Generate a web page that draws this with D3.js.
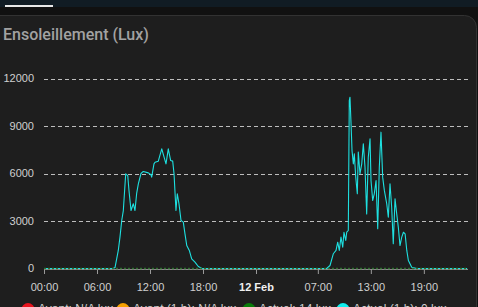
<!DOCTYPE html>
<html>
<head>
<meta charset="utf-8">
<script src="https://cdn.jsdelivr.net/npm/d3@7"></script>
<style>
  html, body { margin: 0; padding: 0; background: #111111; overflow: hidden; }
  svg { display: block; }
</style>
</head>
<body>
<svg id="chart" width="478" height="307"></svg>
<script>
// Hours since 11 Feb 00:00 and light level (lux) for the 1 h sensor
const hours = [
  0, 7.81, 8.04, 8.41, 8.60, 8.80, 8.98, 9.25, 9.48, 9.62, 9.85, 10.11, 10.30, 10.49, 10.68,
  10.98, 11.24, 11.81, 12.11, 12.19, 12.45, 12.57, 12.94, 13.33, 13.81, 14.07, 14.34, 14.57,
  14.72, 14.94, 15.09, 15.28, 15.51, 15.77, 15.96, 16.16, 16.45, 16.72, 17.09, 17.47, 17.85, 18.0,
  32.0, 32.38, 32.75, 33.06, 33.25, 33.43, 33.62, 33.82, 33.96, 34.16, 34.27, 34.45, 34.56, 34.64,
  34.76, 34.87, 35.02, 35.13, 35.29, 35.47, 35.58, 35.77, 35.97, 36.15, 36.34, 36.53, 36.71,
  36.91, 37.02, 37.21, 37.39, 37.59, 37.78, 37.96, 38.15, 38.34, 38.53, 38.80, 38.98, 39.17,
  39.36, 39.54, 39.74, 39.93, 40.11, 40.30, 40.50, 40.69, 40.88, 41.07, 41.25, 41.63, 42.19, 47.9
];
const lux = [
  0, 0, 60, 1140, 1980, 3030, 3660, 5980, 5870, 4930, 3660, 4090, 3660, 4740, 5350,
  6000, 6130, 6040, 5920, 5770, 6610, 6710, 6780, 7560, 6610, 7560, 6820, 6780,
  5980, 3660, 4720, 4090, 3030, 2930, 2190, 1450, 1140, 610, 400, 126, 20, 0,
  0, 190, 930, 1140, 1660, 1140, 1980, 1350, 2290, 1770, 2290, 2400, 10600, 10820,
  9140, 7450, 6610, 7240, 5770, 4720, 7350, 5980, 6610, 7880, 6400, 3450, 7030,
  8190, 5560, 4300, 4720, 5560, 2510, 6400, 8610, 5770, 4930, 4090, 3240, 5350,
  3870, 1560, 4400, 3450, 2610, 1450, 1980, 2290, 2190, 1140, 505, 80, 0, 0
];
// Daily sensor stays at zero across the range
const dailyHours = [0, 47.9];
const dailyLux = [0, 0];

const yTicks = [0, 3000, 6000, 9000, 12000];
const xTickHours = [0, 6, 12, 18, 24, 31, 37, 43];
const legendNames = ['Avant: N/A lux', 'Avant (1 h): N/A lux', 'Actuel: 14 lux', 'Actuel (1 h): 0 lux'];
const legendColors = ['#e8141e', '#f5a000', '#0a7d0a', '#11eeee'];

const start = new Date(2024, 1, 11, 0, 0);
const toDate = h => new Date(start.getTime() + h * 3600 * 1000);

const svg = d3.select('#chart');

// top bar and card
svg.append('rect').attr('x', 0).attr('y', 0).attr('width', 478).attr('height', 7).attr('fill', '#111c24');
svg.append('rect').attr('x', 5).attr('y', 5).attr('width', 48).attr('height', 2).attr('fill', '#e8e8e8');
svg.append('rect')
    .attr('x', -20).attr('y', 15.5).attr('width', 496.5).attr('height', 320)
    .attr('rx', 12).attr('ry', 12)
    .attr('fill', '#1e1e1e')
    .attr('stroke', '#323232')
    .attr('stroke-width', 1);

svg.append('text')
    .attr('x', 3).attr('y', 40)
    .attr('font-family', 'Roboto, sans-serif')
    .attr('font-size', '16px')
    .attr('font-weight', 500)
    .attr('fill', '#a2a2a2')
    .text('Ensoleillement (Lux)');

const x = d3.scaleTime().domain([toDate(0), toDate(48)]).range([44, 468]);
const y = d3.scaleLinear().domain([0, 12000]).range([268.5, 78.5]);

const font = 'Arial, "Liberation Sans", sans-serif';

// grid lines
svg.append('g').selectAll('line')
    .data(yTicks.filter(d => d > 0))
    .join('line')
    .attr('x1', 44).attr('x2', 468)
    .attr('y1', d => Math.round(y(d)) + 0.5).attr('y2', d => Math.round(y(d)) + 0.5)
    .attr('stroke', '#bdbdbd')
    .attr('stroke-width', 1)
    .attr('stroke-dasharray', '4,3');

// y labels
svg.append('g').selectAll('text')
    .data(yTicks)
    .join('text')
    .attr('x', 34)
    .attr('y', d => y(d))
    .attr('dy', '0.35em')
    .attr('text-anchor', 'end')
    .attr('font-family', font)
    .attr('font-size', '11px')
    .attr('fill', '#d0d0d0')
    .text(d => d);

// x axis
const xAxis = d3.axisBottom(x)
    .tickValues(xTickHours.map(toDate))
    .tickSize(5)
    .tickFormat(d => (d.getHours() === 0 && d.getDate() !== 11) ? d3.timeFormat('%-d Feb')(d) : d3.timeFormat('%H:%M')(d));

const gx = svg.append('g')
    .attr('transform', 'translate(0,269)')
    .call(xAxis);
gx.select('.domain').attr('stroke', '#8a8a8a').attr('d', 'M44,0.5H468');
gx.selectAll('.tick line').attr('stroke', '#9a9a9a');
gx.selectAll('.tick text')
    .attr('y', 14)
    .attr('font-family', font)
    .attr('font-size', '11px')
    .attr('fill', '#d0d0d0')
    .attr('font-weight', d => d.getHours() === 0 && d.getDate() !== 11 ? 'bold' : 'normal')
    .attr('fill', d => d.getHours() === 0 && d.getDate() !== 11 ? '#f0f0f0' : '#d0d0d0');

// series lines
const line = d3.line()
    .x(d => x(toDate(d[0])))
    .y(d => y(d[1]));

svg.append('path')
    .datum(hours.map((h, i) => [h, lux[i]]))
    .attr('d', line)
    .attr('fill', 'none')
    .attr('stroke', '#1ee0e0')
    .attr('stroke-width', 1.1)
    .attr('stroke-linejoin', 'round');

svg.append('path')
    .datum(dailyHours.map((h, i) => [h, dailyLux[i]]))
    .attr('d', line)
    .attr('fill', 'none')
    .attr('stroke', '#2e6e2e')
    .attr('stroke-width', 1.5)
    .attr('stroke-dasharray', '2,2');

// legend (cut by the bottom edge)
const legendX = [28, 123, 249, 343];
const lg = svg.append('g');
legendNames.forEach((name, i) => {
    lg.append('circle')
        .attr('cx', legendX[i]).attr('cy', 309.5).attr('r', 6.5)
        .attr('fill', legendColors[i]);
    lg.append('text')
        .attr('x', legendX[i] + 10).attr('y', 313)
        .attr('font-family', font)
        .attr('font-size', '12px')
        .attr('fill', '#d0d0d0')
        .text(name);
});
</script>
</body>
</html>
